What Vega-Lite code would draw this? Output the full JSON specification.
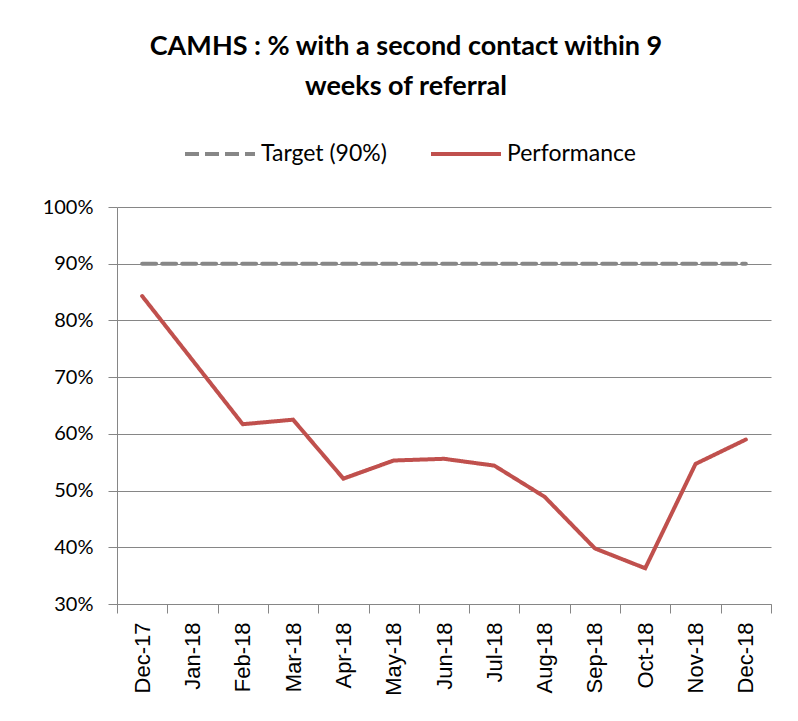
{
  "$schema": "https://vega.github.io/schema/vega-lite/v6.json",
  "autosize": "none",
  "width": 654,
  "height": 397,
  "padding": {"left": 117, "top": 207, "right": 27, "bottom": 117},
  "background": "white",
  "title": {
    "text": ["CAMHS : % with a second contact within 9", "weeks of referral"],
    "font": "Lato",
    "fontSize": 27,
    "fontWeight": "bold",
    "color": "#000000",
    "anchor": "middle",
    "frame": "group",
    "dx": -38,
    "offset": 16,
    "lineHeight": 40
  },
  "data": {
    "values": [
      {"month": "Dec-17", "series": "Target (90%)", "value": 0.9},
      {"month": "Jan-18", "series": "Target (90%)", "value": 0.9},
      {"month": "Feb-18", "series": "Target (90%)", "value": 0.9},
      {"month": "Mar-18", "series": "Target (90%)", "value": 0.9},
      {"month": "Apr-18", "series": "Target (90%)", "value": 0.9},
      {"month": "May-18", "series": "Target (90%)", "value": 0.9},
      {"month": "Jun-18", "series": "Target (90%)", "value": 0.9},
      {"month": "Jul-18", "series": "Target (90%)", "value": 0.9},
      {"month": "Aug-18", "series": "Target (90%)", "value": 0.9},
      {"month": "Sep-18", "series": "Target (90%)", "value": 0.9},
      {"month": "Oct-18", "series": "Target (90%)", "value": 0.9},
      {"month": "Nov-18", "series": "Target (90%)", "value": 0.9},
      {"month": "Dec-18", "series": "Target (90%)", "value": 0.9},
      {"month": "Dec-17", "series": "Performance", "value": 0.843},
      {"month": "Jan-18", "series": "Performance", "value": 0.730},
      {"month": "Feb-18", "series": "Performance", "value": 0.617},
      {"month": "Mar-18", "series": "Performance", "value": 0.625},
      {"month": "Apr-18", "series": "Performance", "value": 0.521},
      {"month": "May-18", "series": "Performance", "value": 0.553},
      {"month": "Jun-18", "series": "Performance", "value": 0.556},
      {"month": "Jul-18", "series": "Performance", "value": 0.544},
      {"month": "Aug-18", "series": "Performance", "value": 0.489},
      {"month": "Sep-18", "series": "Performance", "value": 0.398},
      {"month": "Oct-18", "series": "Performance", "value": 0.363},
      {"month": "Nov-18", "series": "Performance", "value": 0.547},
      {"month": "Dec-18", "series": "Performance", "value": 0.590}
    ]
  },
  "mark": {"type": "line", "strokeWidth": 4, "strokeCap": "round"},
  "encoding": {
    "x": {
      "field": "month",
      "type": "ordinal",
      "sort": null,
      "scale": {"paddingInner": 0, "paddingOuter": 0},
      "axis": {
        "title": null,
        "labelAngle": 270,
        "labelFont": "Liberation Sans",
        "labelFontSize": 22,
        "labelColor": "#000000",
        "labelPadding": 9,
        "domainColor": "#868686",
        "domainWidth": 1,
        "tickColor": "#868686",
        "tickSize": 9,
        "tickBand": "extent",
        "grid": false
      }
    },
    "y": {
      "field": "value",
      "type": "quantitative",
      "scale": {"domain": [0.3, 1.0], "nice": false, "zero": false},
      "axis": {
        "title": null,
        "format": ".0%",
        "values": [0.3, 0.4, 0.5, 0.6, 0.7, 0.8, 0.9, 1.0],
        "labelFont": "Lato",
        "labelFontSize": 20,
        "labelColor": "#000000",
        "labelPadding": 15,
        "domainColor": "#868686",
        "tickColor": "#868686",
        "tickSize": 9,
        "gridColor": "#868686",
        "gridWidth": 1
      }
    },
    "color": {
      "field": "series",
      "type": "nominal",
      "scale": {"domain": ["Target (90%)", "Performance"], "range": ["#878787", "#C0504D"]},
      "legend": {
        "title": null,
        "orient": "none",
        "direction": "horizontal",
        "legendX": 66,
        "legendY": -90,
        "labelFont": "Lato",
        "labelFontSize": 23,
        "labelColor": "#000000",
        "symbolType": "stroke",
        "symbolSize": 4900,
        "symbolStrokeWidth": 4,
        "labelOffset": 4,
        "columnPadding": 36
      }
    },
    "strokeDash": {
      "field": "series",
      "type": "nominal",
      "scale": {"domain": ["Target (90%)", "Performance"], "range": [[14, 6], [1, 0]]}
    }
  },
  "config": {
    "view": {"stroke": null},
    "axis": {"labelFontWeight": "normal"}
  }
}
